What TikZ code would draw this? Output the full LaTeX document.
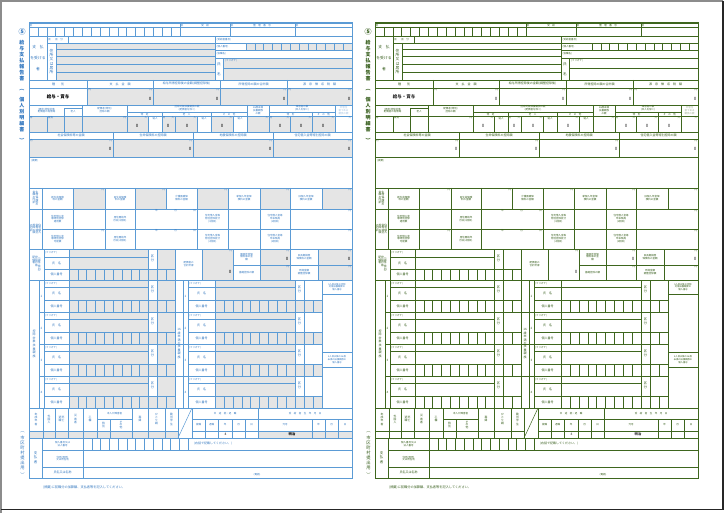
\documentclass[tikz,border=0pt]{standalone}
\usepackage{fontspec}
\setmainfont{Noto Sans CJK JP}
\definecolor{bline}{RGB}{91,155,213}
\definecolor{btext}{RGB}{47,117,190}
\definecolor{gline}{RGB}{62,102,30}
\definecolor{gtext}{RGB}{52,92,25}
\definecolor{grayfill}{RGB}{229,229,229}
\colorlet{fc}{bline}\colorlet{tc}{btext}\colorlet{gf}{grayfill}\colorlet{vc}{black}
\makeatletter
\def\vt#1{\vtop{\offinterlineskip\def\vt@g{0pt}\vt@a#1\@nil}}
\def\vtg#1{\vtop{\offinterlineskip\def\vt@g{0.25em}\vt@a#1\@nil}}
\def\vt@a#1{\ifx\@nil#1\else\hbox to 1em{\hss#1\hss}\kern\vt@g\relax\expandafter\vt@a\fi}
\makeatother
\tikzset{
 lab/.style={font=\fontsize{3}{3.5}\selectfont, text=tc, inner sep=0pt, align=center},
 labs/.style={font=\fontsize{2.5}{2.9}\selectfont, text=tc, inner sep=0pt, align=center},
 labv/.style={font=\fontsize{2.8}{2.8}\selectfont, text=tc, inner sep=0pt},
 num/.style={font=\fontsize{4.5}{4.5}\selectfont, text=vc, inner sep=0pt},
 cellg/.style={fill=gf, draw=fc, line width=0.5pt},
 cellw/.style={draw=fc, line width=0.5pt},
 thk/.style={draw=fc, line width=0.9pt},
 ttl/.style={font=\fontsize{5}{5}\selectfont\bfseries, text=tc, inner sep=0pt},
}
\newcommand\mkW[4]{\path[cellw] (#1,#2) rectangle (#3,#4);}
\newcommand\mkG[4]{\path[cellg] (#1,#2) rectangle (#3,#4);}
\newcommand\mkY[2]{\node[labs,anchor=north east] at ({#1-0.8},{#2+0.6}) {円};}
\newcommand\mkZ[2]{\node[num] at (#1,#2) {0};}
\newcommand\mkZr[2]{\node[num,anchor=east] at ({#1-1.5},#2) {0};}
\newcommand\mkD[5]{\path[cellg] (#1,#2) rectangle (#3,#4);
  \foreach \i in {1,...,#5}{\draw[fc,line width=0.4pt] ({#1+\i*(#3-#1)/(#5+1)},#2)--({#1+\i*(#3-#1)/(#5+1)},#4);}}
\newcommand\mkDw[5]{\path[cellw] (#1,#2) rectangle (#3,#4);
  \foreach \i in {1,...,#5}{\draw[fc,line width=0.4pt] ({#1+\i*(#3-#1)/(#5+1)},#2)--({#1+\i*(#3-#1)/(#5+1)},#4);}}

\newcommand\FORM{%
%% margin titles
\node[font=\fontsize{7}{7}\selectfont\bfseries, text=tc, inner sep=0pt] at (22,32) {⑤};
\foreach \c/\yy in {給/43,与/49,支/55,払/61,報/67,告/73,書/79,︵/90,個/100,人/106,別/112,明/118,細/124,書/130,︶/140}{\node[ttl] at (22,\yy){\c};}
\foreach \c/\yy in {︵/432,市/438,区/443,町/448,村/453,提/458,出/463,用/468,︶/475}{\node[font=\fontsize{4.3}{4.3}\selectfont, text=tc, inner sep=0pt] at (22.5,\yy){\c};}
%% top strip
\mkW{29}{23}{352}{36}
\draw[cellw] (29,27)--(352,27);
\foreach \x in {180,230,295}{\draw[cellw] (\x,23)--(\x,36);}
\foreach \i in {1,...,16}{\draw[cellw] ({29+\i*151/17},27)--({29+\i*151/17},36);}
\node[labs] at (31,25.2){区};
\node[labs] at (182,25.2){区};
\node[labs] at (205,25.2){受　給};
\node[labs] at (232,25.2){区};
\node[labs] at (262,25.2){整　理　番　号};
\node[labs] at (297,25.2){区};
%% payee block
\mkW{29}{36}{215}{80}
\mkG{56}{43}{215}{80}
\foreach \y in {49,56,64,72}{\draw[cellw] (56,\y)--(215,\y);}
\draw[cellw] (47,36)--(47,80);
\draw[cellw] (47,43)--(215,43);
\draw[cellw] (68,36)--(68,43);
\draw[cellw] (56,43)--(56,80);
\node[labs] at (49.5,39.5){区};
\node[labs] at (59,39.5){区　分};
\node[lab,font=\fontsize{3.8}{3.8}\selectfont] at (38,47){支　払};
\node[lab,font=\fontsize{3.8}{3.8}\selectfont] at (38,58){を受ける};
\node[lab,font=\fontsize{3.8}{3.8}\selectfont] at (38,69){者};
\node[labv,font=\fontsize{3.8}{3.8}\selectfont] at (51.5,62){\vtg{住所又は居所}};
\mkW{215}{36}{352}{80}
\node[labs,anchor=west] at (216.5,39.5){(受給者番号)};
\draw[cellw] (215,43)--(352,43);
\mkW{215}{43}{246}{50}
\node[labs,anchor=west] at (216.5,46.5){(個人番号)};
\mkD{246}{43}{352}{50}{11}
\draw[cellw] (215,50)--(352,50);
\node[labs,anchor=west] at (216.5,54){(役職名)};
\draw[cellw] (215,58)--(352,58);
\mkG{223}{58}{352}{80}
\draw[cellw] (223,68)--(352,68);
\node[labs,anchor=west] at (225,61){(フリガナ)};
\node[lab,font=\fontsize{3.6}{3.6}\selectfont] at (219,64){氏};
\node[lab,font=\fontsize{3.6}{3.6}\selectfont] at (219,74){名};
%% amounts
\foreach \a/\b in {87/153,153/220,220/287,287/352}{\mkG{\a}{88}{\b}{105}\mkY{\b}{88}\mkZr{\b}{99}}
\draw[thk] (29,80)--(352,80);
\draw[cellw] (29,88)--(352,88);
\foreach \x in {87,153,220,287}{\draw[cellw] (\x,80)--(\x,105);}
\node[lab] at (58,84){種　　別};
\node[lab] at (120,84){支　払　金　額};
\node[lab] at (186.5,84){給与所得控除後の金額(調整控除後)};
\node[lab] at (253.5,84){所得控除の額の合計額};
\node[lab] at (319.5,84){源　泉　徴　収　税　額};
\node[font=\fontsize{4.5}{4.5}\selectfont\bfseries, text=vc, inner sep=0pt] at (58,97){給与・賞与};
\node[labs,anchor=north west] at (88.5,88.6){内};
\node[labs,anchor=north west] at (288.5,88.6){内};
%% deduction counts
\foreach \a/\b in {29/148,162/197,211/233,247/335}{\mkG{\a}{116}{\b}{132}}
\draw[thk] (29,105)--(352,105);
\draw[cellw] (29,116)--(352,116);
\draw[cellw] (127,112)--(247,112);
\draw[cellw] (269,112)--(335,112);
\draw[cellw] (64,108)--(82,108);
\draw[cellw] (64,108)--(64,132);
\foreach \x in {82,127,247,269,335}{\draw[cellw] (\x,105)--(\x,132);}
\foreach \x in {162,211,312}{\draw[cellw] (\x,112)--(\x,132);}
\foreach \x in {47,148,175,197,233,290}{\draw[cellw] (\x,116)--(\x,132);}
\node[labs] at (46.5,110.5){(源泉)控除対象\\配偶者の有無等};
\node[labs] at (73,112){老人};
\node[labs] at (104.5,110.5){配偶者(特別)\\控除の額};
\node[labs] at (187,108.5){控除対象扶養親族の数\\(配偶者を除く)};
\node[labs] at (144.5,114.2){特　定};
\node[labs] at (186.5,114.2){老　人};
\node[labs] at (229,114.2){そ　の　他};
\node[labs] at (258,110.5){16歳未満\\扶養親族\\の数};
\node[labs] at (302,108.5){障害者の数\\(本人を除く)};
\node[labs] at (290.5,114.2){特　別};
\node[labs] at (323.5,114.2){そ　の　他};
\node[labs,text=tc!45] at (343.5,110.5){非居住\\者である\\親族の数};
\node[labs,anchor=north west] at (30,116.5){有};
\node[labs,anchor=north west] at (48,116.5){従有};
\mkY{127}{116}
\foreach \x in {148,175,197,233,269,290,312,335,352}{\node[labs,anchor=north east] at ({\x-0.6},116.5){人};}
\node[labs] at (155,119){従人};
\node[labs] at (204,119){従人};
\node[labs] at (240,119){従人};
\node[labs,anchor=north west] at (162.6,116.5){内};
\node[labs,anchor=north west] at (269.6,116.5){内};
\foreach \x in {137,168,187,222,280,301,323}{\mkZ{\x}{126}}
%% insurance amounts
\foreach \a/\b in {29/113,113/193,193/273,273/352}{\mkG{\a}{139}{\b}{157}\mkY{\b}{139}\mkZr{\b}{149}}
\draw[thk] (29,132)--(352,132);
\draw[cellw] (29,139)--(352,139);
\foreach \x in {113,193,273}{\draw[cellw] (\x,132)--(\x,157);}
\node[lab] at (71,135.5){社会保険料等の金額};
\node[lab] at (153,135.5){生命保険料の控除額};
\node[lab] at (233,135.5){地震保険料の控除額};
\node[lab] at (312.5,135.5){住宅借入金等特別控除の額};
\node[labs,anchor=north west] at (30,139.6){内};
%% tekiyo
\draw[thk] (29,157)--(352,157);
\node[labs,anchor=north west] at (31,159){(摘要)};
%% breakdown block
\foreach \a/\b in {73/105,135/166,197/228,260/290,322/352}{\mkG{\a}{188}{\b}{209}\mkY{\b}{188}}
\draw[thk] (29,188)--(352,188);
\draw[cellw] (29,209)--(352,209);
\draw[cellw] (42,229)--(352,229);
\draw[cellw] (42,188)--(42,249);
\foreach \x in {73,105,135,166,197,228,260,290,322}{\draw[cellw] (\x,188)--(\x,209);}
\foreach \x in {73,105,135,197,228,260,290}{\draw[cellw] (\x,209)--(\x,249);}
\node[labs] at (57.5,198.5){新生命保険\\料の金額};
\node[labs] at (120,198.5){旧生命保険\\料の金額};
\node[labs] at (181.5,198.5){介護医療保\\険料の金額};
\node[labs] at (244,198.5){新個人年金保\\険料の金額};
\node[labs] at (306,198.5){旧個人年金保\\険料の金額};
\node[labs] at (57.5,219){住宅借入金\\等特別控除\\適用数};
\node[labs] at (120,219){居住開始年\\月日(1回目)};
\node[labs] at (212.5,219){住宅借入金等\\特別控除区分\\(1回目)};
\node[labs] at (275,219){住宅借入金等\\年末残高\\(1回目)};
\mkY{352}{209}
\node[labs] at (57.5,239){住宅借入金\\等特別控除\\可能額};
\mkY{105}{229}
\node[labs] at (120,239){居住開始年\\月日(2回目)};
\node[labs] at (212.5,239){住宅借入金等\\特別控除区分\\(2回目)};
\node[labs] at (275,239){住宅借入金等\\年末残高\\(2回目)};
\mkY{352}{229}
\foreach \y in {209,229}{\foreach \x/\t in {158/年,177/月,196/日}{\node[labs,anchor=north east] at (\x,\y+0.6){\t};}}
\node[labv] at (35.5,198.5){\vt{金額の内訳}\vt{生命保険料の}};
\node[labv] at (35.5,229){\vt{の内訳}\vt{控除の額}\vt{金等特別}\vt{住宅借入}};
%% spouse block
\mkW{44}{249}{69}{257}
\mkG{69}{249}{148}{257}
\mkW{44}{257}{69}{269}
\mkG{69}{257}{148}{269}
\mkW{148}{249}{157}{269}
\mkG{157}{249}{175}{269}
\mkW{44}{269}{69}{280}
\mkD{69}{269}{175}{280}{11}
\node[labs,anchor=west] at (45,253){(フリガナ)};
\node[lab] at (56.5,263){氏　名};
\node[lab] at (56.5,274.5){個人番号};
\node[labv,font=\fontsize{3.2}{3.2}\selectfont] at (152.5,259){\vtg{区分}};
\node[labv] at (36.5,264.5){\vt{配偶者}\vt{控除対象}\vt{︵源泉・特別︶}};
\mkW{175}{249}{202}{280}
\mkG{202}{249}{233}{280}\mkY{233}{249}\mkZr{233}{272}
\mkW{233}{249}{260}{265}
\mkG{260}{249}{290}{265}\mkY{290}{249}\mkZr{290}{259}
\mkW{290}{249}{318}{265}
\mkG{318}{249}{352}{265}\mkY{352}{249}\mkZr{352}{259}
\mkW{233}{265}{260}{280}
\mkG{260}{265}{290}{280}\mkY{290}{265}
\mkW{290}{265}{318}{280}
\mkG{318}{265}{352}{280}\mkY{352}{265}
\node[labs] at (188.5,264.5){配偶者の\\合計所得};
\node[labs] at (246.5,257){国民年金保\\険料等の金\\額};
\node[labs] at (304,257){旧長期損害\\保険料の金額};
\node[labs] at (246.5,272.5){基礎控除の額};
\node[labs] at (304,272.5){所得金額\\調整控除額};
\draw[thk] (29,249)--(352,249);
\draw[cellw] (44,249)--(44,280);
%% dependents
\foreach \g in {0,1,2,3}{
 \pgfmathsetmacro\yz{280+32*\g}
 \pgfmathtruncatemacro\nn{\g+1}
 \mkW{44}{\yz}{69}{\yz+7}
 \mkG{69}{\yz}{148}{\yz+7}
 \mkW{44}{\yz+7}{69}{\yz+20}
 \mkG{69}{\yz+7}{148}{\yz+20}
 \mkW{148}{\yz}{157}{\yz+20}
 \mkG{157}{\yz}{175}{\yz+20}
 \mkW{44}{\yz+20}{69}{\yz+32}
 \mkD{69}{\yz+20}{175}{\yz+32}{11}
 \node[labs,anchor=west] at (45,\yz+3.5){(フリガナ)};
 \node[lab] at (56.5,\yz+13.5){氏　名};
 \node[lab] at (56.5,\yz+26){個人番号};
 \node[labv,font=\fontsize{3.2}{3.2}\selectfont] at (152.5,\yz+10){\vtg{区分}};
 \node[lab] at (41.5,\yz+16){\nn};
 \mkW{188}{\yz}{215}{\yz+7}
 \mkG{215}{\yz}{295}{\yz+7}
 \mkW{188}{\yz+7}{215}{\yz+20}
 \mkG{215}{\yz+7}{295}{\yz+20}
 \mkW{295}{\yz}{304}{\yz+20}
 \mkW{304}{\yz}{322}{\yz+20}
 \mkW{188}{\yz+20}{215}{\yz+32}
 \mkD{215}{\yz+20}{322}{\yz+32}{11}
 \node[labs,anchor=west] at (189,\yz+3.5){(フリガナ)};
 \node[lab] at (201.5,\yz+13.5){氏　名};
 \node[lab] at (201.5,\yz+26){個人番号};
 \node[labv,font=\fontsize{3.2}{3.2}\selectfont] at (299.5,\yz+10){\vtg{区分}};
 \node[lab] at (185.5,\yz+16){\nn};
 \draw[thk] (39,\yz+32)--(322,\yz+32);
}
\draw[thk] (29,280)--(352,280);
\foreach \x in {39,44,175,183,188}{\draw[cellw] (\x,280)--(\x,408);}
\mkW{322}{280}{352}{408}
\draw[cellw] (322,294)--(352,294);
\draw[cellw] (322,352)--(352,352);
\draw[cellw] (322,367)--(352,367);
\node[font=\fontsize{2.3}{2.7}\selectfont, text=tc, inner sep=0pt, align=center] at (337,287){5人目以降の控除\\対象扶養親族の\\個人番号};
\node[font=\fontsize{2.3}{2.7}\selectfont, text=tc, inner sep=0pt, align=center] at (337,359.5){5人目以降の16歳\\未満の扶養親族の\\個人番号};
\node[labv,font=\fontsize{3}{3}\selectfont] at (34,344){\vtg{控除対象扶養親族}};
\node[labv,font=\fontsize{3}{3}\selectfont] at (179,344){\vtg{{16}歳未満の扶養親族}};
%% check row
\mkG{29}{431}{178}{438}
\mkG{258}{431}{352}{438}
\draw[thk] (29,408)--(352,408);
\draw[cellw] (29,431)--(178,431);
\draw[cellw] (192,431)--(352,431);
\draw[cellw] (97,419)--(132,419);
\draw[cellw] (192,419)--(352,419);
\foreach \x in {43,55,68,83,97,132,148,165,178,192,258}{\draw[cellw] (\x,408)--(\x,438);}
\foreach \x in {110,205,218,232,245,312,325,338}{\draw[cellw] (\x,419)--(\x,438);}
\draw[cellw] (178,438)--(192,408);
\node[labv] at (36,419.5){\vtg{未成年者}};
\node[labv] at (49,419.5){\vtg{外国人}};
\node[labv] at (61.5,419.5){\vtg{退職}\vtg{死亡}};
\node[labv] at (75.5,419.5){\vtg{災害者}};
\node[labv] at (90,419.5){\vtg{乙欄}};
\node[labs] at (114.5,413.5){本人が障害者};
\node[labv] at (103.5,425){\vtg{特別}};
\node[labv] at (121,425){\vt{その他}};
\node[labv] at (140,419.5){\vtg{寡婦}};
\node[labv] at (156.5,419.5){\vtg{ひとり親}};
\node[labv] at (171.5,419.5){\vtg{勤労学生}};
\node[labs] at (225,413.5){中　途　就・退　職};
\node[labs] at (198.5,425){就職};
\node[labs] at (211.5,425){退職};
\node[labs] at (225,425){年};
\node[labs] at (238.5,425){月};
\node[labs] at (251.5,425){日};
\node[labs] at (305,413.5){受　給　者　生　年　月　日};
\node[labs] at (285,425){元号};
\node[labs] at (318.5,425){年};
\node[labs] at (331.5,425){月};
\node[labs] at (345,425){日};
\node[font=\fontsize{3.3}{3.3}\selectfont, text=vc, inner sep=0pt] at (225.5,434.5){4};
\node[font=\fontsize{3.3}{3.3}\selectfont\bfseries, text=vc, inner sep=0pt] at (292,434.5){明治};
%% payer
\mkDw{83}{438}{188}{450}{11}
\draw[thk] (29,438)--(352,438);
\draw[cellw] (42,438)--(42,478);
\draw[cellw] (83,438)--(83,478);
\draw[cellw] (42,450)--(352,450);
\draw[cellw] (42,467)--(352,467);
\node[labv,font=\fontsize{3.5}{3.5}\selectfont] at (35.5,458){\vtg{支払者}};
\node[labs] at (62.5,444){個人番号又は\\法人番号};
\node[labs] at (62.5,458.5){住所(居所)\\又は所在地};
\node[lab] at (62.5,472.5){氏名又は名称};
\node[lab,anchor=west] at (194,444){(右詰で記載してください。)};
\node[labs] at (257,474.5){(電話)};
%% outer
\draw[fc,line width=1pt] (29,23) rectangle (352,478);
\node[font=\fontsize{3.2}{3.2}\selectfont, text=tc, inner sep=0pt, anchor=west] at (43,487){(摘要)に前職分の加算額、支払者等を記入してください。};
}

\begin{document}
\begin{tikzpicture}[x=1pt,y=-1pt]
\useasboundingbox (0,0) rectangle (725,513);
\fill[white] (0,0) rectangle (725,513);
\draw[black!45, line width=1.6pt] (1.2,513)--(1.2,1)--(723,1);
\draw[black!85, line width=1.2pt] (723,1)--(723,509.5)--(1.2,509.5);
\begin{scope}
\colorlet{fc}{bline}\colorlet{tc}{btext}\colorlet{gf}{grayfill}\colorlet{vc}{black}
\FORM
\end{scope}
\begin{scope}[xshift=346pt]
\colorlet{fc}{gline}\colorlet{tc}{gtext}\colorlet{gf}{white}\colorlet{vc}{black!85}
\FORM
\end{scope}
\end{tikzpicture}
\end{document}
